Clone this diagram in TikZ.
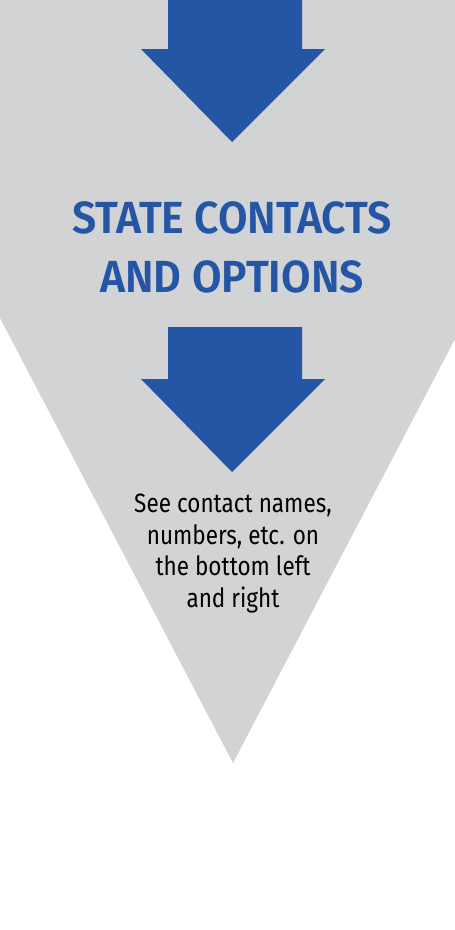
\documentclass[tikz,border=0pt]{standalone}
\usepackage{fontspec}
\setmainfont{Fira Sans}
\newfontfamily\titlefont[FakeStretch=0.95]{Fira Sans SemiBold}
\newfontfamily\notefont[FakeStretch=0.85]{Fira Sans}
\definecolor{funnelgray}{RGB}{209,211,213}
\definecolor{stepblue}{RGB}{37,85,165}
\tikzset{
  titletext/.style={text=stepblue, align=center, font=\titlefont\fontsize{45}{59}\selectfont},
  notetext/.style={text=black, align=center, font=\notefont\fontsize{26.5}{31.5}\selectfont},
  bigarrow/.style={fill=stepblue}
}
\begin{document}
\begin{tikzpicture}[x=1pt,y=-1pt]
  \useasboundingbox (0,0) rectangle (455,930);
  \clip (0,0) rectangle (455,930);
  % funnel
  \fill[funnelgray] (0,0) -- (455,0) -- (455,339) -- (233,763) -- (0,318) -- cycle;
  % arrows
  \foreach \dy in {0,330}
    \fill[bigarrow] (168,-3+\dy) -- (302,-3+\dy) -- (302,49+\dy) -- (325,49+\dy)
      -- (232,142+\dy) -- (141,49+\dy) -- (168,49+\dy) -- cycle;
  % texts (base = last line)
  \node[titletext, anchor=base] (title) at (232,292) {STATE CONTACTS\\AND OPTIONS};
  \node[notetext, anchor=base] (note) at (233,607) {See contact names,\\numbers, etc. on\\the bottom left\\and right};
\end{tikzpicture}
\end{document}
